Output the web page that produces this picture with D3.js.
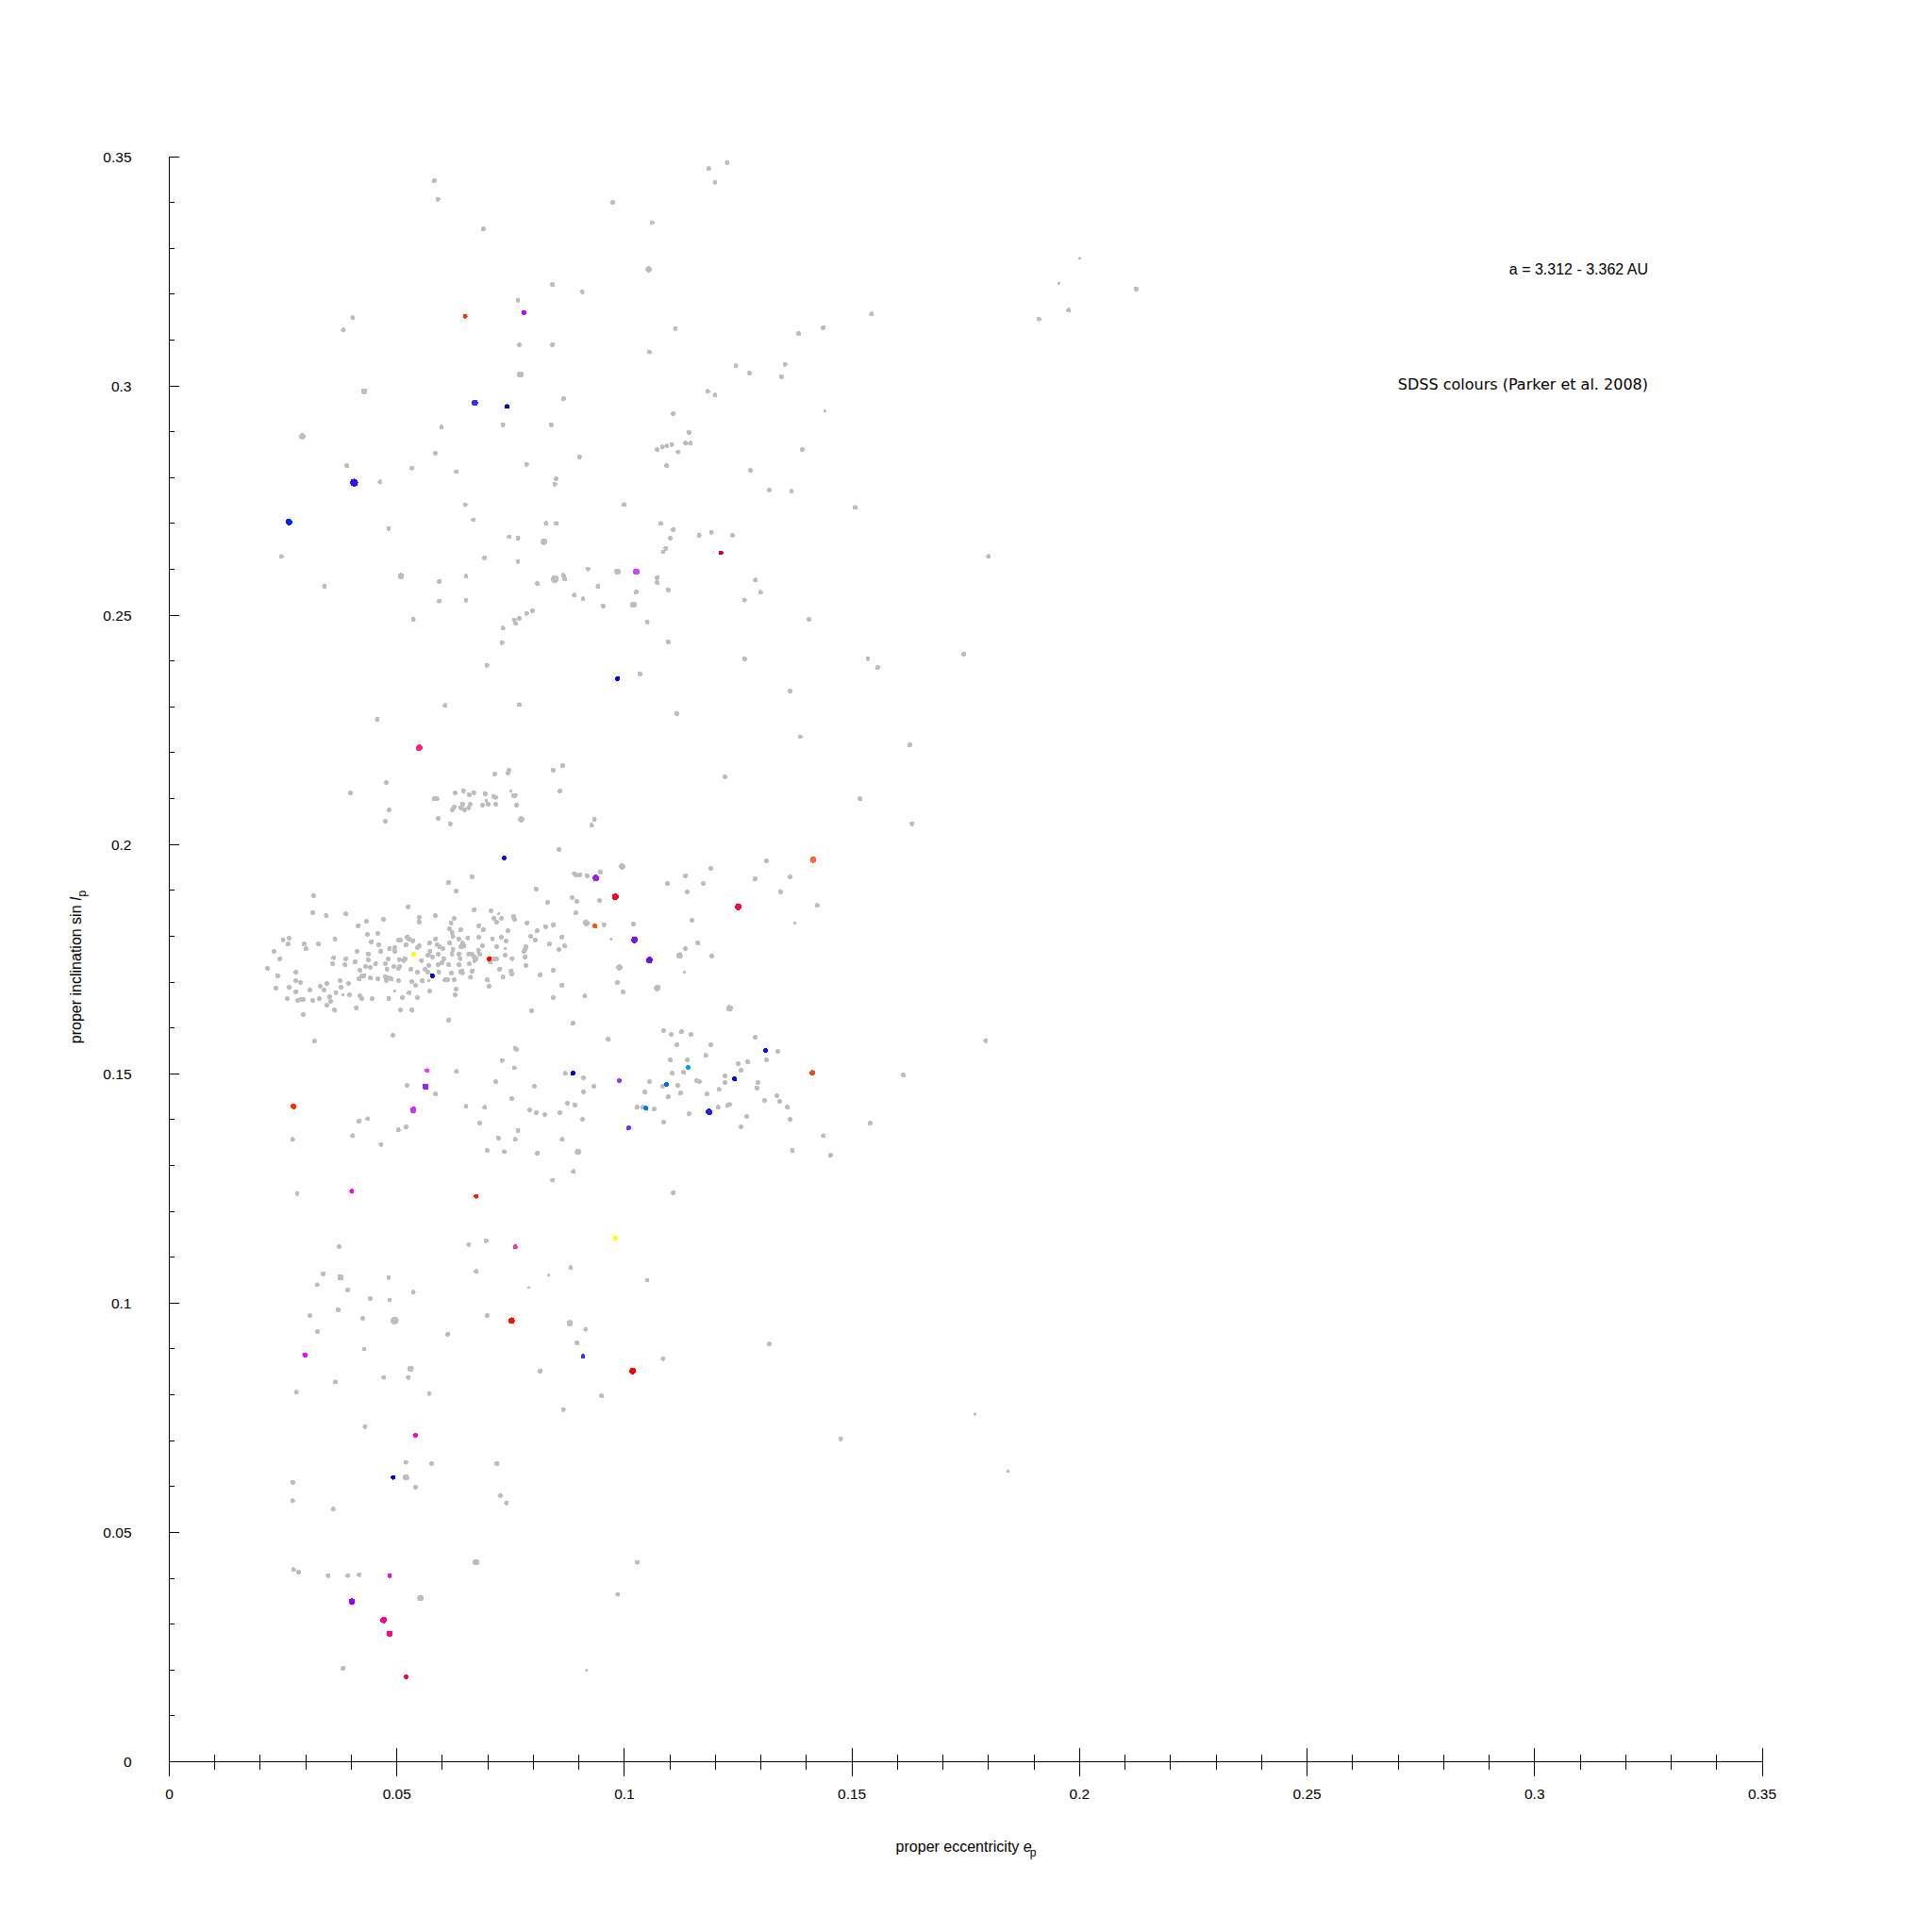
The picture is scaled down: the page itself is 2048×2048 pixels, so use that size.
<!DOCTYPE html>
<html><head><meta charset="utf-8">
<script src="https://cdn.jsdelivr.net/npm/d3@7"></script>
<style>body{margin:0;background:#fff}</style></head>
<body><svg id="chart" width="2048" height="2048"></svg>
<script>
// [proper eccentricity, sin(proper inclination), size class]
const greyUpper = [[0.0582,0.3447,2],[0.0590,0.3407,2],[0.0974,0.3400,2],[0.1185,0.3474,2],[0.1226,0.3487,2],[0.1199,0.3444,2],[0.1061,0.3356,2],[0.0690,0.3342,2],[0.1053,0.3254,3],[0.2000,0.3278,1],[0.1954,0.3224,1],[0.2124,0.3211,2],[0.0842,0.3221,2],[0.0907,0.3205,2],[0.0403,0.3149,2],[0.0382,0.3122,2],[0.0766,0.3187,2],[0.0769,0.3090,2],[0.0842,0.3090,2],[0.1112,0.3125,2],[0.1543,0.3157,2],[0.1437,0.3127,2],[0.1911,0.3146,2],[0.1976,0.3165,2],[0.1055,0.3074,2],[0.1245,0.3044,2],[0.1275,0.3028,2],[0.1353,0.3047,2],[0.1345,0.3020,2],[0.1383,0.3114,2],[0.0771,0.3025,3],[0.0428,0.2988,3],[0.0866,0.2972,2],[0.1183,0.2988,2],[0.1199,0.2980,2],[0.0733,0.2915,2],[0.0839,0.2915,2],[0.0598,0.2910,2],[0.1440,0.2945,1],[0.1107,0.2939,2],[0.1142,0.2899,2],[0.0292,0.2890,3],[0.1072,0.2861,2],[0.1083,0.2867,2],[0.1093,0.2869,2],[0.1104,0.2872,2],[0.1118,0.2856,2],[0.1134,0.2875,2],[0.1145,0.2875,2],[0.1391,0.2861,2],[0.0901,0.2845,2],[0.0585,0.2853,2],[0.0533,0.2821,2],[0.0631,0.2813,2],[0.0390,0.2826,2],[0.0463,0.2791,2],[0.0785,0.2829,2],[0.0850,0.2797,2],[0.0847,0.2786,2],[0.1093,0.2826,2],[0.1277,0.2816,2],[0.1318,0.2773,2],[0.1367,0.2770,2],[0.0482,0.2689,2],[0.0650,0.2741,2],[0.0668,0.2708,2],[0.0999,0.2741,2],[0.1080,0.2700,2],[0.1107,0.2687,2],[0.1507,0.2735,2],[0.0246,0.2628,2],[0.0747,0.2671,2],[0.0766,0.2668,2],[0.0823,0.2660,3],[0.0828,0.2700,2],[0.0850,0.2700,2],[0.1101,0.2668,2],[0.1164,0.2674,2],[0.1191,0.2681,2],[0.1237,0.2674,2],[0.1091,0.2646,2],[0.1085,0.2638,2],[0.1800,0.2628,2],[0.0693,0.2625,2],[0.0766,0.2617,2],[0.0341,0.2563,2],[0.0509,0.2585,3],[0.0593,0.2574,2],[0.0652,0.2585,2],[0.0809,0.2569,2],[0.0847,0.2579,4],[0.0866,0.2587,2],[0.0869,0.2579,2],[0.0920,0.2601,2],[0.0942,0.2563,2],[0.0985,0.2595,3],[0.1072,0.2582,2],[0.1072,0.2571,2],[0.1096,0.2555,2],[0.1288,0.2577,2],[0.1299,0.2550,2],[0.1264,0.2533,2],[0.0593,0.2531,2],[0.0652,0.2533,2],[0.0909,0.2536,2],[0.0890,0.2544,2],[0.0953,0.2520,2],[0.1020,0.2523,3],[0.1026,0.2550,2],[0.0798,0.2510,2],[0.0785,0.2504,2],[0.0769,0.2493,2],[0.0758,0.2490,2],[0.0761,0.2482,2],[0.0733,0.2472,2],[0.0536,0.2491,2],[0.1050,0.2485,2],[0.1405,0.2491,2],[0.1096,0.2442,2],[0.0731,0.2440,2],[0.0698,0.2391,2],[0.1034,0.2372,2],[0.1264,0.2405,2],[0.1535,0.2405,2],[0.1556,0.2386,2],[0.1746,0.2415,2],[0.1364,0.2335,2],[0.0606,0.2303,2],[0.0769,0.2305,2],[0.1115,0.2286,2],[0.0457,0.2273,2],[0.1386,0.2235,2],[0.1627,0.2217,2],[0.1221,0.2147,2],[0.1518,0.2100,2],[0.1632,0.2045,2],[0.0934,0.2055,2],[0.0928,0.2042,2],[0.1424,0.1867,2]];

const greyBand = [[0.0477,0.2135,2],[0.0398,0.2113,2],[0.0483,0.2076,2],[0.0475,0.2051,2],[0.0582,0.2100,2],[0.0588,0.2100,2],[0.0628,0.2113,2],[0.0646,0.2117,2],[0.0659,0.2109,2],[0.0669,0.2113,2],[0.0694,0.2111,2],[0.0712,0.2105,2],[0.0717,0.2103,2],[0.0746,0.2162,2],[0.0744,0.2156,2],[0.0715,0.2154,2],[0.0750,0.2117,1],[0.0756,0.2107,2],[0.0760,0.2107,2],[0.0843,0.2162,2],[0.0864,0.2172,2],[0.0858,0.2117,2],[0.0763,0.2086,2],[0.0773,0.2055,3],[0.0717,0.2088,2],[0.0700,0.2088,2],[0.0697,0.2096,1],[0.0688,0.2086,2],[0.0661,0.2088,2],[0.0658,0.2080,2],[0.0649,0.2076,2],[0.0640,0.2080,2],[0.0644,0.2088,2],[0.0626,0.2082,2],[0.0622,0.2076,2],[0.0591,0.2057,2],[0.0617,0.2045,2],[0.0856,0.1989,2],[0.0665,0.1930,2],[0.0613,0.1917,2],[0.0630,0.1899,2],[0.0806,0.1903,2],[0.0317,0.1888,2]];

const greyCluster = [[0.0831,0.1874,2],[0.0525,0.1864,2],[0.0315,0.1851,2],[0.0670,0.1858,2],[0.0707,0.1855,2],[0.0724,0.1849,1],[0.0345,0.1845,2],[0.0388,0.1849,2],[0.0585,0.1845,2],[0.0549,0.1841,2],[0.0549,0.1831,2],[0.0471,0.1837,2],[0.0433,0.1833,2],[0.0626,0.1839,2],[0.0619,0.1829,2],[0.0713,0.1839,2],[0.0730,0.1839,2],[0.0719,0.1831,2],[0.0756,0.1843,2],[0.0759,0.1837,2],[0.0786,0.1829,2],[0.0844,0.1825,2],[0.0827,0.1821,2],[0.0415,0.1823,2],[0.0680,0.1823,2],[0.0690,0.1814,2],[0.0640,0.1814,2],[0.0616,0.1816,2],[0.0621,0.1808,2],[0.0623,0.1800,2],[0.0744,0.1812,2],[0.0808,0.1812,2],[0.0863,0.1798,2],[0.0794,0.1800,2],[0.0804,0.1792,2],[0.0435,0.1804,2],[0.0458,0.1806,2],[0.0523,0.1798,2],[0.0527,0.1794,2],[0.0535,0.1790,2],[0.0504,0.1792,2],[0.0508,0.1792,2],[0.0585,0.1794,2],[0.0250,0.1792,2],[0.0263,0.1796,2],[0.0364,0.1794,2],[0.0261,0.1783,2],[0.0296,0.1783,2],[0.0328,0.1783,2],[0.0444,0.1788,2],[0.0460,0.1781,2],[0.0484,0.1773,2],[0.0495,0.1775,2],[0.0520,0.1781,2],[0.0545,0.1775,2],[0.0549,0.1779,2],[0.0572,0.1785,2],[0.0589,0.1781,2],[0.0594,0.1777,2],[0.0616,0.1785,2],[0.0644,0.1785,2],[0.0647,0.1779,2],[0.0641,0.1777,2],[0.0656,0.1796,2],[0.0636,0.1794,2],[0.0680,0.1798,2],[0.0688,0.1779,2],[0.0710,0.1794,2],[0.0730,0.1798,2],[0.0740,0.1790,2],[0.0719,0.1777,2],[0.0784,0.1777,2],[0.0782,0.1771,2],[0.0835,0.1783,2],[0.0856,0.1771,2],[0.0869,0.1779,2],[0.0300,0.1773,2],[0.0230,0.1767,2],[0.0243,0.1751,2],[0.0361,0.1753,2],[0.0388,0.1751,2],[0.0413,0.1767,2],[0.0437,0.1761,2],[0.0465,0.1767,2],[0.0495,0.1767,2],[0.0481,0.1751,2],[0.0505,0.1749,2],[0.0518,0.1751,2],[0.0515,0.1747,2],[0.0554,0.1747,2],[0.0568,0.1759,2],[0.0573,0.1767,2],[0.0578,0.1755,2],[0.0591,0.1761,2],[0.0601,0.1773,2],[0.0603,0.1751,2],[0.0621,0.1761,2],[0.0623,0.1771,2],[0.0637,0.1761,2],[0.0639,0.1751,2],[0.0658,0.1761,2],[0.0665,0.1761,2],[0.0670,0.1755,2],[0.0674,0.1751,2],[0.0671,0.1747,2],[0.0682,0.1761,2],[0.0679,0.1769,2],[0.0705,0.1744,2],[0.0713,0.1751,2],[0.0719,0.1751,2],[0.0738,0.1759,2],[0.0753,0.1751,2],[0.0738,0.1773,1],[0.0779,0.1767,2],[0.0782,0.1755,2],[0.0359,0.1740,2],[0.0386,0.1738,2],[0.0408,0.1744,2],[0.0437,0.1749,2],[0.0216,0.1730,2],[0.0278,0.1722,2],[0.0238,0.1714,2],[0.0431,0.1734,2],[0.0442,0.1732,2],[0.0453,0.1740,2],[0.0475,0.1740,2],[0.0478,0.1728,2],[0.0493,0.1734,2],[0.0504,0.1730,2],[0.0506,0.1734,2],[0.0531,0.1728,2],[0.0545,0.1722,2],[0.0562,0.1728,2],[0.0570,0.1736,2],[0.0591,0.1738,2],[0.0599,0.1742,2],[0.0614,0.1738,2],[0.0620,0.1720,2],[0.0637,0.1738,2],[0.0643,0.1724,2],[0.0644,0.1720,2],[0.0659,0.1740,2],[0.0666,0.1724,2],[0.0726,0.1728,2],[0.0751,0.1724,2],[0.0753,0.1718,2],[0.0784,0.1736,2],[0.0815,0.1716,2],[0.0844,0.1726,2],[0.0419,0.1726,2],[0.0423,0.1714,2],[0.0428,0.1714,2],[0.0234,0.1687,2],[0.0278,0.1703,2],[0.0288,0.1699,2],[0.0346,0.1697,2],[0.0332,0.1691,2],[0.0375,0.1703,2],[0.0394,0.1697,2],[0.0417,0.1707,2],[0.0442,0.1709,2],[0.0458,0.1707,2],[0.0475,0.1711,2],[0.0481,0.1709,2],[0.0488,0.1707,2],[0.0477,0.1703,2],[0.0504,0.1703,2],[0.0533,0.1701,2],[0.0541,0.1693,2],[0.0556,0.1703,2],[0.0568,0.1722,2],[0.0570,0.1703,1],[0.0592,0.1722,2],[0.0606,0.1705,2],[0.0611,0.1705,2],[0.0626,0.1705,2],[0.0640,0.1722,2],[0.0662,0.1711,2],[0.0699,0.1705,2],[0.0703,0.1691,2],[0.0733,0.1711,2],[0.0863,0.1693,2],[0.0263,0.1689,2],[0.0278,0.1679,2],[0.0309,0.1683,2],[0.0340,0.1683,2],[0.0352,0.1668,2],[0.0366,0.1677,2],[0.0377,0.1689,2],[0.0381,0.1672,1],[0.0396,0.1672,2],[0.0419,0.1670,2],[0.0423,0.1664,2],[0.0446,0.1664,2],[0.0482,0.1664,2],[0.0495,0.1681,1],[0.0512,0.1666,2],[0.0527,0.1677,2],[0.0545,0.1666,2],[0.0572,0.1681,2],[0.0630,0.1685,2],[0.0628,0.1672,2],[0.0259,0.1664,2],[0.0282,0.1660,2],[0.0288,0.1662,2],[0.0294,0.1662,2],[0.0315,0.1660,2],[0.0330,0.1664,2],[0.0844,0.1666,2],[0.0346,0.1650,2],[0.0355,0.1658,2],[0.0363,0.1639,2],[0.0411,0.1644,2],[0.0508,0.1639,2],[0.0533,0.1639,2],[0.0796,0.1637,2],[0.0294,0.1629,2],[0.0614,0.1617,2],[0.0491,0.1584,2],[0.0319,0.1571,2],[0.0763,0.1553,2]];

const greyRight = [[0.0995,0.1952,3],[0.0890,0.1936,2],[0.0895,0.1933,2],[0.0902,0.1934,2],[0.0918,0.1932,2],[0.0947,0.1940,2],[0.0885,0.1884,2],[0.0895,0.1876,2],[0.0945,0.1878,2],[0.0893,0.1851,2],[0.1094,0.1915,2],[0.1134,0.1932,2],[0.1190,0.1948,2],[0.1173,0.1915,2],[0.1138,0.1897,2],[0.1312,0.1964,2],[0.1287,0.1925,2],[0.1364,0.1929,2],[0.1343,0.1897,2],[0.1374,0.1829,1],[0.1148,0.1835,2],[0.1020,0.1827,2],[0.0955,0.1825,2],[0.0916,0.1829,3],[0.0971,0.1794,1],[0.1161,0.1785,2],[0.1134,0.1773,2],[0.1121,0.1758,3],[0.1192,0.1757,2],[0.1132,0.1722,1],[0.0989,0.1732,3],[0.0985,0.1699,2],[0.0997,0.1678,2],[0.1072,0.1687,3],[0.0913,0.1670,2],[0.0887,0.1610,2],[0.0964,0.1575,2],[0.1231,0.1643,3],[0.1086,0.1594,2],[0.1103,0.1586,2],[0.1125,0.1592,2],[0.1146,0.1586,2],[0.1115,0.1563,2],[0.1190,0.1563,2],[0.1179,0.1540,2],[0.1287,0.1580,2],[0.1337,0.1549,2],[0.1312,0.1530,2],[0.1250,0.1522,2],[0.1271,0.1526,2],[0.1256,0.1508,2],[0.1138,0.1530,2],[0.1101,0.1530,2],[0.1130,0.1503,2],[0.1105,0.1501,2],[0.1159,0.1485,2],[0.1165,0.1483,2],[0.1221,0.1495,2],[0.1221,0.1481,2],[0.1293,0.1481,2],[0.1291,0.1469,2],[0.1208,0.1466,2],[0.1181,0.1456,2],[0.1117,0.1475,2],[0.1084,0.1473,2],[0.1123,0.1458,2],[0.1096,0.1450,2],[0.1055,0.1483,2],[0.1045,0.1460,2],[0.0933,0.1473,2],[0.0910,0.1491,2],[0.0870,0.1501,2],[0.0910,0.1460,2],[0.0802,0.1473,2],[0.0875,0.1436,2],[0.0891,0.1432,2],[0.0792,0.1421,2],[0.0806,0.1415,2],[0.0825,0.1411,2],[0.0858,0.1415,2],[0.0908,0.1401,2],[0.1028,0.1427,2],[0.1040,0.1427,2],[0.1065,0.1423,2],[0.1142,0.1413,2],[0.1086,0.1395,2],[0.1206,0.1427,2],[0.1227,0.1431,2],[0.1231,0.1433,2],[0.1268,0.1407,2],[0.1256,0.1384,2],[0.1308,0.1442,2],[0.1335,0.1452,2],[0.1341,0.1440,2],[0.1358,0.1427,2],[0.1364,0.1401,2]];

const greyLower = [[0.1794,0.1572,2],[0.1613,0.1497,2],[0.1540,0.1392,2],[0.1437,0.1365,2],[0.1369,0.1333,2],[0.1453,0.1322,2],[0.1107,0.1241,2],[0.0898,0.1330,3],[0.0888,0.1287,2],[0.0842,0.1268,2],[0.0863,0.1357,2],[0.0809,0.1327,2],[0.0760,0.1357,2],[0.0766,0.1376,2],[0.0736,0.1330,2],[0.0271,0.1357,2],[0.0281,0.1239,2],[0.0417,0.1397,2],[0.0436,0.1402,2],[0.0403,0.1365,2],[0.0465,0.1346,2],[0.0503,0.1378,2],[0.0520,0.1384,2],[0.0522,0.1475,2],[0.0631,0.1505,2],[0.0585,0.1456,2],[0.0652,0.1429,2],[0.0682,0.1392,2],[0.0693,0.1427,2],[0.0717,0.1483,2],[0.0731,0.1529,2],[0.0760,0.1556,2],[0.0758,0.1513,2],[0.0752,0.1446,2],[0.0723,0.1360,2],[0.0698,0.1333,2],[0.0696,0.1136,2],[0.0658,0.1128,2],[0.0674,0.1069,2],[0.0790,0.1034,1],[0.0834,0.1061,1],[0.0882,0.1077,2],[0.1050,0.1050,2],[0.0373,0.1123,2],[0.0338,0.1064,2],[0.0376,0.1056,3],[0.0325,0.1040,2],[0.0392,0.1029,2],[0.0441,0.1010,2],[0.0482,0.1056,2],[0.0484,0.1007,2],[0.0536,0.1024,2],[0.0371,0.0986,2],[0.0309,0.0973,2],[0.0425,0.0967,2],[0.0495,0.0962,4],[0.0325,0.0938,2],[0.0612,0.0932,2],[0.0698,0.0973,2],[0.0880,0.0956,3],[0.0915,0.0943,2],[0.0896,0.0913,2],[0.1085,0.0879,2],[0.1318,0.0911,2],[0.0950,0.0798,2],[0.0815,0.0852,2],[0.0428,0.0900,2],[0.0471,0.0838,2],[0.0530,0.0857,3],[0.0525,0.0838,2],[0.0365,0.0828,2],[0.0571,0.0803,2],[0.0279,0.0806,2],[0.0866,0.0768,2],[0.0430,0.0731,2],[0.1475,0.0704,2],[0.1770,0.0758,1],[0.1843,0.0634,1],[0.0576,0.0650,2],[0.0520,0.0653,2],[0.0720,0.0650,2],[0.0520,0.0620,3],[0.0541,0.0599,2],[0.0271,0.0609,2],[0.0271,0.0569,2],[0.0728,0.0580,2],[0.0741,0.0564,2],[0.0360,0.0551,2],[0.0674,0.0435,3],[0.1028,0.0435,2],[0.0273,0.0419,2],[0.0284,0.0414,2],[0.0349,0.0406,2],[0.0392,0.0406,2],[0.0417,0.0408,2],[0.0552,0.0357,3],[0.0985,0.0365,2],[0.0382,0.0204,2],[0.0917,0.0199,1]];

// asteroids with SDSS colours: [e, sin i, size class, colour]
const colouredPoints = [[0.0650,0.3152,2,"#ff3300"],[0.0779,0.3160,2,"#cc00ff"],[0.0671,0.2963,3,"#3333ff"],[0.0742,0.2955,2,"#0000cc"],[0.0406,0.2789,4,"#3311ff"],[0.0263,0.2703,3,"#0022ff"],[0.1212,0.2636,2,"#cc0033"],[0.1026,0.2595,3,"#cc44ff"],[0.0985,0.2362,2,"#0000ff"],[0.0549,0.2211,3,"#ff2288"],[0.0736,0.1971,2,"#1111ee"],[0.1415,0.1967,3,"#ff6633"],[0.0937,0.1927,3,"#9922ee"],[0.0980,0.1886,3,"#ff0022"],[0.1250,0.1864,3,"#ff0044"],[0.0935,0.1822,2,"#ff5511"],[0.1022,0.1792,3,"#7711ff"],[0.1055,0.1748,3,"#6611ff"],[0.0537,0.1761,2,"#ffff00"],[0.0703,0.1751,2,"#ff0000"],[0.0578,0.1714,2,"#0011cc"],[0.1310,0.1551,2,"#0011ff"],[0.1140,0.1514,2,"#0099ff"],[0.1242,0.1489,2,"#0000ee"],[0.1092,0.1477,2,"#0066ff"],[0.0989,0.1485,2,"#9933ff"],[0.0887,0.1501,2,"#0000ee"],[0.1047,0.1425,2,"#0077ff"],[0.1186,0.1417,3,"#2222ee"],[0.1009,0.1382,2,"#7733ff"],[0.1413,0.1502,2.5,"#dd5522"],[0.0273,0.1429,2.5,"#ff3300"],[0.0536,0.1421,3,"#cc33ff"],[0.0563,0.1472,3,"#9922ff"],[0.0566,0.1507,2,"#ff33ff"],[0.0401,0.1244,2,"#ff00ff"],[0.0674,0.1233,2,"#ff2200"],[0.0760,0.1123,2,"#ff3399"],[0.0980,0.1142,2,"#ffff00"],[0.0752,0.0962,3,"#ff1100"],[0.0909,0.0884,2,"#3333ff"],[0.1018,0.0852,3,"#ff0000"],[0.0298,0.0887,2,"#ff00ff"],[0.0541,0.0712,2,"#ff00cc"],[0.0492,0.0620,2,"#0000ee"],[0.0484,0.0406,2,"#ff00ff"],[0.0401,0.0349,3,"#9900ff"],[0.0471,0.0309,3,"#ff0099"],[0.0484,0.0279,3,"#ff0088"],[0.0520,0.0185,2,"#ff0066"]];

const xTickLabels = ["0","0.05","0.1","0.15","0.2","0.25","0.3","0.35"];
const yTickLabels = ["0","0.05","0.1","0.15","0.2","0.25","0.3","0.35"];
const annotations = ["a = 3.312 - 3.362 AU","SDSS colours (Parker et al. 2008)"];

const svg = d3.select("#chart");
svg.append("rect").attr("width",2048).attr("height",2048).attr("fill","#fff");

const x = d3.scaleLinear().domain([0,0.35]).range([179.5,1868]);
const y = d3.scaleLinear().domain([0,0.35]).range([1867.5,166]);
const r = d3.scaleLinear().domain([1,5]).range([1.6,5.2]);

const font = "'Liberation Sans', Arial, sans-serif";

// points
const grey = [].concat(greyUpper, greyBand, greyCluster, greyRight, greyLower);
svg.append("g").selectAll("circle").data(grey).join("circle")
  .attr("cx",d=>x(d[0])).attr("cy",d=>y(d[1])).attr("r",d=>r(d[2]))
  .attr("fill","#bebebe").attr("shape-rendering","crispEdges");
svg.append("g").selectAll("circle").data(colouredPoints).join("circle")
  .attr("cx",d=>x(d[0])).attr("cy",d=>y(d[1])).attr("r",d=>r(d[2]))
  .attr("fill",d=>d[3]).attr("shape-rendering","crispEdges");

// axes
const ax = svg.append("g").attr("stroke","#000").attr("stroke-width",1).attr("shape-rendering","crispEdges");
ax.append("line").attr("x1",x(0)).attr("x2",x(0.35)).attr("y1",y(0)).attr("y2",y(0));
ax.append("line").attr("x1",x(0)).attr("x2",x(0)).attr("y1",y(0)).attr("y2",y(0.35));
const ticks = d3.range(0,36).map(k=>k/100);
ax.selectAll(".xt").data(ticks).join("line").attr("class","xt")
  .attr("x1",d=>x(d)).attr("x2",d=>x(d))
  .attr("y1",(d,k)=>y(0)-(k%5===0?15:8)).attr("y2",(d,k)=>y(0)+(k%5===0?15:8));
ax.selectAll(".yt").data(ticks.slice(1)).join("line").attr("class","yt")
  .attr("y1",d=>y(d)).attr("y2",d=>y(d))
  .attr("x1",x(0)).attr("x2",(d,k)=>x(0)+((k+1)%5===0?10:5));

const labelVals = d3.range(0,8).map(k=>k*0.05);
svg.append("g").selectAll("text").data(labelVals).join("text")
  .attr("x",d=>x(d)).attr("y",1907).attr("text-anchor","middle")
  .attr("font-family",font).attr("font-size",15.5).text((d,k)=>xTickLabels[k]);
svg.append("g").selectAll("text").data(labelVals).join("text")
  .attr("x",139.5).attr("y",d=>y(d)).attr("dy","0.36em").attr("text-anchor","end")
  .attr("font-family",font).attr("font-size",15.5).text((d,k)=>yTickLabels[k]);

// axis titles
const xt = svg.append("text").attr("x",1024).attr("y",1963).attr("text-anchor","middle")
  .attr("font-family",font).attr("font-size",16);
xt.append("tspan").text("proper eccentricity ");
xt.append("tspan").attr("font-style","italic").text("e");
xt.append("tspan").attr("font-size",12).attr("dx",-2).attr("dy",5).text("p");

const yt = svg.append("text").attr("transform","translate(86,1025) rotate(-90)")
  .attr("text-anchor","middle").attr("font-family",font).attr("font-size",16);
yt.append("tspan").text("proper inclination sin ");
yt.append("tspan").attr("font-style","italic").text("I");
yt.append("tspan").attr("font-size",12).attr("dy",5).text("p");

// annotations
svg.append("text").attr("x",1747).attr("y",291).attr("text-anchor","end")
  .attr("font-family",font).attr("font-size",16).text(annotations[0]);
svg.append("text").attr("x",1747).attr("y",413).attr("text-anchor","end")
  .attr("font-family","'DejaVu Sans', sans-serif").attr("font-size",16).text(annotations[1]);
</script>
</body></html>
